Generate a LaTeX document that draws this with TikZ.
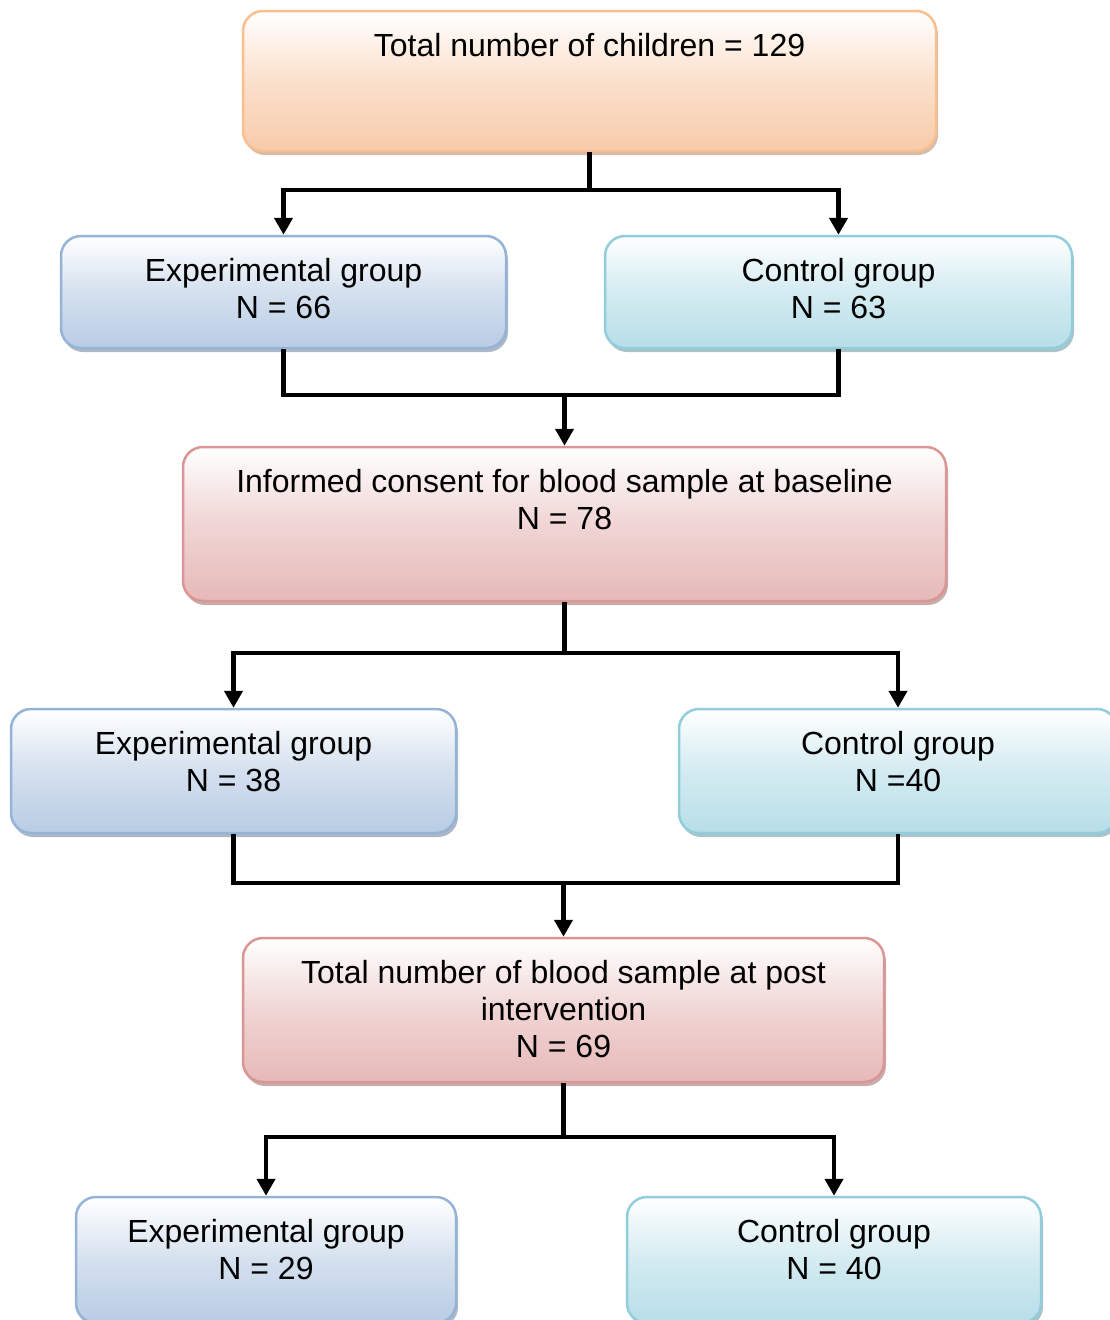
\documentclass[tikz,border=0pt]{standalone}
\usepackage{fontspec}
\setmainfont{Liberation Sans}
\usetikzlibrary{shadows,arrows.meta}
\definecolor{orB}{RGB}{249,191,143}
\definecolor{orF}{RGB}{248,203,170}
\definecolor{blB}{RGB}{149,179,215}
\definecolor{blF}{RGB}{184,204,228}
\definecolor{tlB}{RGB}{146,205,220}
\definecolor{tlF}{RGB}{183,222,232}
\definecolor{rdB}{RGB}{217,150,148}
\definecolor{rdF}{RGB}{230,185,184}
\tikzset{
  box/.style={draw=#1B, line width=2.5pt, rounded corners=20pt,
    top color=white, bottom color=#1F, middle color=#1F!60,
    drop shadow={shadow xshift=2pt, shadow yshift=-4pt, opacity=0.55, fill=#1B!70!black},
    inner sep=0pt},
  txt/.style={anchor=north, align=center, inner sep=0pt,
    font=\fontsize{32}{37}\selectfont},
  conn/.style={line width=4.5pt, black},
  arr/.style={conn, -{Triangle[width=18pt,length=17pt]}}
}
\begin{document}
\begin{tikzpicture}[x=1pt,y=-1pt]
\useasboundingbox (0,0) rectangle (1110,1320);
\clip (0,0) rectangle (1110,1320);
% boxes
\node[box=or, minimum width=693pt, minimum height=140pt] (top) at (589.5,81) {};
\node[txt] (topt) at ([yshift=-23pt]top.north) {Total number of children = 129};
\node[box=bl, minimum width=445pt, minimum height=112pt] (e1) at (283.5,292) {};
\node[txt] (e1t) at ([yshift=-23pt]e1.north) {Experimental group\\N = 66};
\node[box=tl, minimum width=467pt, minimum height=112pt] (c1) at (838.5,292) {};
\node[txt] (c1t) at ([yshift=-23pt]c1.north) {Control group\\N = 63};
\node[box=rd, minimum width=763pt, minimum height=154pt] (ic) at (564.5,524) {};
\node[txt] (ict) at ([yshift=-23pt]ic.north) {Informed consent for blood sample at baseline\\N = 78};
\node[box=bl, minimum width=445pt, minimum height=124pt] (e2) at (233.5,771) {};
\node[txt] (e2t) at ([yshift=-23pt]e2.north) {Experimental group\\N = 38};
\node[box=tl, minimum width=438pt, minimum height=124pt] (c2) at (898,771) {};
\node[txt] (c2t) at ([yshift=-23pt]c2.north) {Control group\\N =40};
\node[box=rd, minimum width=641pt, minimum height=144pt] (po) at (563.5,1010) {};
\node[txt] (pot) at ([yshift=-23pt]po.north) {Total number of blood sample at post\\intervention\\N = 69};
\node[box=bl, minimum width=380pt, minimum height=126pt] (e3) at (266,1260) {};
\node[txt] (e3t) at ([yshift=-23pt]e3.north) {Experimental group\\N = 29};
\node[box=tl, minimum width=414pt, minimum height=126pt] (c3) at (834,1260) {};
\node[txt] (c3t) at ([yshift=-23pt]c3.north) {Control group\\N = 40};
% connectors
\coordinate (j1) at (589.5,190);
\draw[conn] (top.south) -- (j1);
\draw[arr] (j1) -| (e1.north);
\draw[arr] (j1) -| (c1.north);
\coordinate (j2) at (564.5,395);
\draw[conn] (e1.south) |- (j2);
\draw[conn] (c1.south) |- (j2);
\draw[arr] (j2) -- (ic.north);
\coordinate (j3) at (564.5,653);
\draw[conn] (ic.south) -- (j3);
\draw[arr] (j3) -| (e2.north);
\draw[arr] (j3) -| (c2.north);
\coordinate (j4) at (563.5,883);
\draw[conn] (e2.south) |- (j4);
\draw[conn] (c2.south) |- (j4);
\draw[arr] (j4) -- (po.north);
\coordinate (j5) at (563.5,1137);
\draw[conn] (po.south) -- (j5);
\draw[arr] (j5) -| (e3.north);
\draw[arr] (j5) -| (c3.north);
\end{tikzpicture}
\end{document}
